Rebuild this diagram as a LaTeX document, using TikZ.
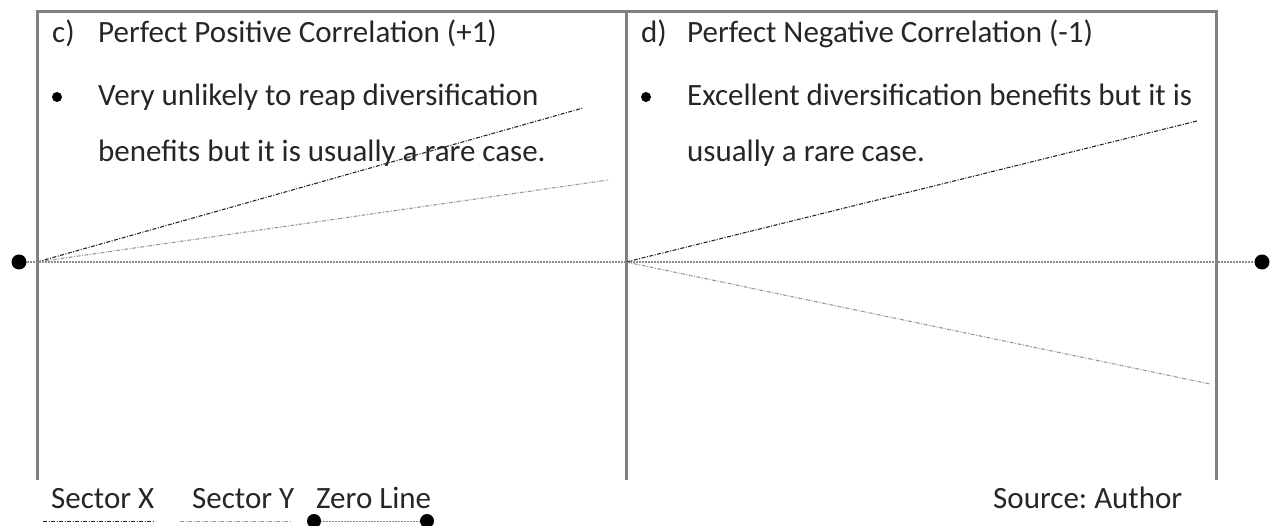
\documentclass[tikz,border=0pt]{standalone}
\usepackage{fontspec}
\setmainfont{Carlito}
\frenchspacing
\begin{document}
\begin{tikzpicture}[x=1pt,y=-1pt,
  frame/.style={draw=black!50,line width=3pt},
  zeroline/.style={draw=black!45,line width=1.8pt,dash pattern=on 1pt off 0.5pt},
  sectorx/.style={draw=black!85,line width=1.1pt,dash pattern=on 4pt off 1.5pt on 1pt off 1.5pt},
  sectory/.style={draw=black!40,line width=1.1pt,dash pattern=on 4pt off 1.5pt on 1pt off 1.5pt},
  dot/.style={circle,fill=black,inner sep=0pt,minimum size=15pt},
  txt/.style={anchor=base west,inner sep=0pt,font=\fontsize{31}{36}\selectfont,text=black!85},
  bul/.style={circle,fill=black,inner sep=0pt,minimum size=10pt}]
\useasboundingbox (0,0) rectangle (1271,526);
% frame
\coordinate (TL) at (37,12);
\coordinate (TM) at (626,12);
\coordinate (TR) at (1216,12);
\coordinate (BL) at (37,480);
\coordinate (BM) at (626,480);
\coordinate (BR) at (1216,480);
\draw[frame] (BL) -- (TL) -- (TR) -- (BR);
\draw[frame] (TM) -- (BM);
% zero line
\node[dot] (z1) at (19,262) {};
\node[dot] (z2) at (1262,262) {};
\coordinate (O1) at (37,262);
\coordinate (O2) at (626,262);
\draw[zeroline] (z1) -- (z2);
% left panel lines
\coordinate (LX) at (583,108);
\coordinate (LY) at (608,180);
\draw[sectorx] (O1) -- (LX);
\draw[sectory] (O1) -- (LY);
% right panel lines
\coordinate (RX) at (1197,121);
\coordinate (RY) at (1210,384);
\draw[sectorx] (O2) -- (RX);
\draw[sectory] (O2) -- (RY);
% texts left
\node[txt] (c) at (52,43) {c)};
\node[txt] (ct) at (98,43) {Perfect Positive Correlation (+1)};
\node[bul] (b1) at (57,97) {};
\node[txt] (l1) at (98,106) {Very unlikely to reap diversification};
\node[txt] (l2) at (98,162) {benefits but it is usually a rare case.};
% texts right
\node[txt] (d) at (641,43) {d)};
\node[txt] (dt) at (687,43) {Perfect Negative Correlation (-1)};
\node[bul] (b2) at (646,97) {};
\node[txt] (r1) at (687,106) {Excellent diversification benefits but it is};
\node[txt] (r2) at (687,162) {usually a rare case.};
% legend
\node[txt] (sx) at (51,508) {Sector X};
\node[txt] (sy) at (192,508) {Sector Y};
\node[txt] (zl) at (316,508) {Zero Line};
\node[txt] (src) at (993,508) {Source: Author};
\coordinate (sx1) at (43,521);
\coordinate (sx2) at (155,521);
\coordinate (sy1) at (180,521);
\coordinate (sy2) at (292,521);
\draw[sectorx,line width=0.8pt] (sx1) -- (sx2);
\draw[sectory,line width=0.8pt] (sy1) -- (sy2);
\node[dot,minimum size=14pt] (zd1) at (314,521) {};
\node[dot,minimum size=14pt] (zd2) at (427,521) {};
\draw[zeroline,line width=1pt] (zd1) -- (zd2);
\end{tikzpicture}
\end{document}
